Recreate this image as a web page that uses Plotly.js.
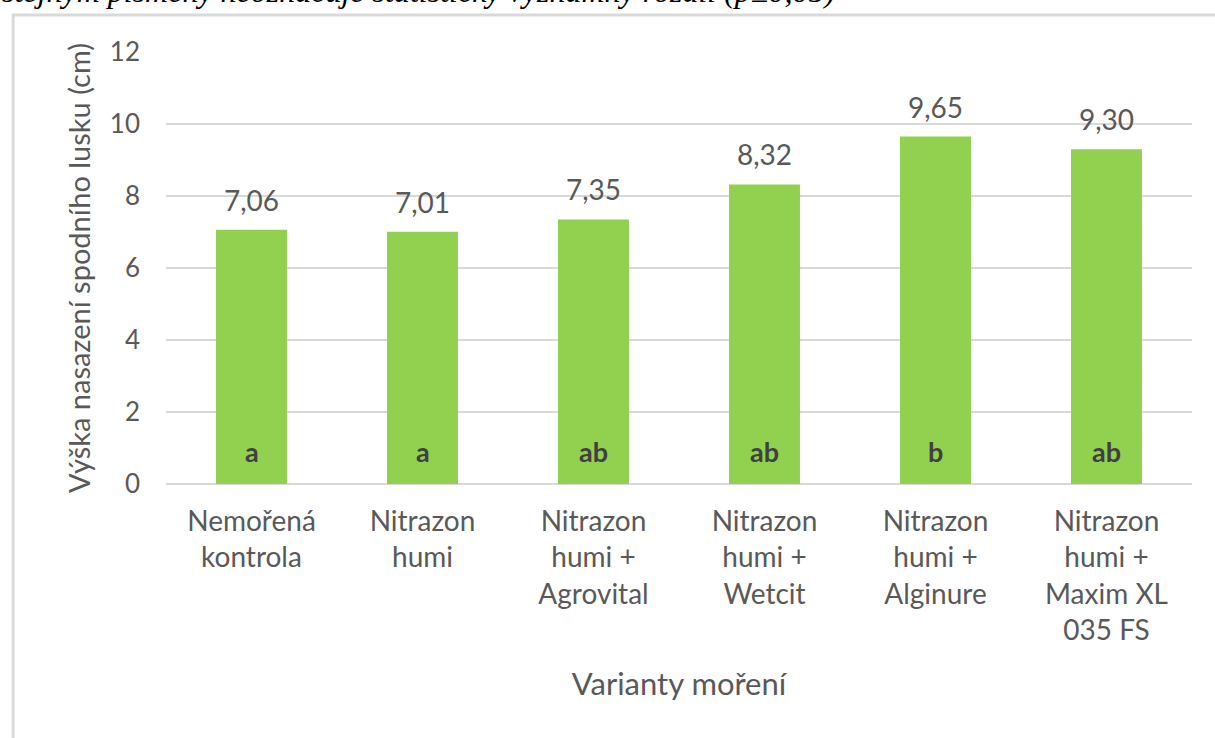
<!DOCTYPE html>
<html>
<head>
<meta charset="utf-8">
<script src="https://cdn.plot.ly/plotly-3.0.1.min.js"></script>
<style>
html,body{margin:0;padding:0;background:#fff;}
#chart{width:1215px;height:738px;}
</style>
</head>
<body>
<div id="chart"></div>
<script>
const categories = ["Nemořená kontrola","Nitrazon humi","Nitrazon humi + Agrovital","Nitrazon humi + Wetcit","Nitrazon humi + Alginure","Nitrazon humi + Maxim XL 035 FS"];
const tickLabels = ["Nemořená<br>kontrola","Nitrazon<br>humi","Nitrazon<br>humi +<br>Agrovital","Nitrazon<br>humi +<br>Wetcit","Nitrazon<br>humi +<br>Alginure","Nitrazon<br>humi +<br>Maxim XL<br>035 FS"];
const values = [7.06, 7.01, 7.35, 8.32, 9.65, 9.30];
const letters = ["a","a","ab","ab","b","ab"];
const yTicks = [0,2,4,6,8,10,12];
const yTitle = "Výška nasazení spodního lusku (cm)";
const xTitle = "Varianty moření";
const caption = "stejným písmeny neoznačuje statisticky významný rozdíl (p≤0,05)";

const FONT = "Lato, 'Open Sans', sans-serif";
const GRAY = "#595959";

const trace = {
  type: "bar",
  x: categories,
  y: values,
  marker: {color: "#92D050"},
  hoverinfo: "x+y"
};

const annotations = [];
categories.forEach((c, i) => {
  annotations.push({
    x: c, y: values[i], xref: "x", yref: "y",
    text: values[i].toFixed(2).replace(".", ","),
    showarrow: false, yanchor: "bottom", yshift: 11,
    font: {family: FONT, size: 28, color: GRAY}
  });
  annotations.push({
    x: c, y: 0, xref: "x", yref: "y",
    text: "<b>" + letters[i] + "</b>",
    showarrow: false, yanchor: "middle", yshift: 33,
    font: {family: FONT, size: 27, color: "#404040"}
  });
});
annotations.push({
  x: -0.162, y: 1.095, xref: "paper", yref: "paper",
  xanchor: "left", yanchor: "bottom",
  text: "<i>" + caption + "</i>", showarrow: false,
  font: {family: "'Liberation Serif', 'Times New Roman', serif", size: 32, color: "#000"}
});

const layout = {
  width: 1215, height: 738,
  margin: {l: 166, r: 23, t: 52, b: 254},
  paper_bgcolor: "#fff", plot_bgcolor: "#fff",
  bargap: 0.585,
  showlegend: false,
  font: {family: FONT, color: GRAY},
  xaxis: {
    tickvals: categories, ticktext: tickLabels,
    tickfont: {family: FONT, size: 28, color: GRAY},
    showgrid: false, showline: false, ticks: "",
    ticklabelstandoff: 18,
    title: {text: xTitle, font: {family: FONT, size: 31, color: GRAY}, standoff: 28}
  },
  yaxis: {
    range: [0, 12], tickvals: yTicks,
    tickfont: {family: FONT, size: 26, color: GRAY},
    gridcolor: "#d9d9d9", gridwidth: 2,
    zeroline: true, zerolinecolor: "#d9d9d9", zerolinewidth: 2,
    showline: false, ticks: "",
    ticklabelstandoff: 25,
    title: {text: yTitle, font: {family: FONT, size: 29, color: GRAY}, standoff: 10}
  },
  shapes: [{
    type: "rect", xref: "paper", yref: "paper",
    x0: -0.149, x1: 1.06, y0: -0.75, y1: 1.0856,
    line: {color: "#d9d9d9", width: 3}, fillcolor: "rgba(0,0,0,0)", layer: "below"
  }],
  annotations: annotations
};

Plotly.newPlot("chart", [trace], layout, {displayModeBar: false, staticPlot: true});
</script>
</body>
</html>
